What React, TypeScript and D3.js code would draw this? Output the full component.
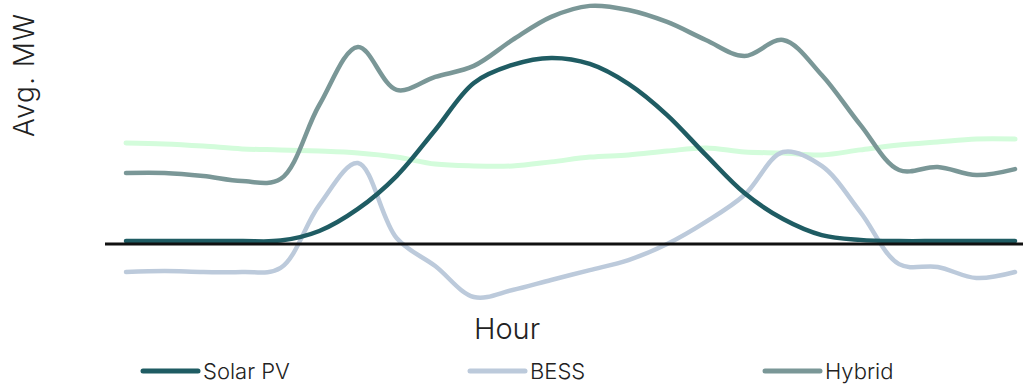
import React from "react";
import * as d3 from "d3";

const hours = d3.range(0, 24);
const solarPV = [0.8, 0.8, 0.8, 0.8, 1.0, 5.0, 14.2, 27.9, 47.1, 66.7, 74.2, 77.1, 74.6, 66.3, 53.3, 36.7, 20.8, 10.0, 3.3, 1.3, 0.8, 0.8, 0.8, 0.8];
const bess = [-12.1, -11.7, -12.1, -12.1, -10.4, 15.8, 33.3, 2.1, -9.6, -22.5, -19.6, -15.4, -11.3, -7.1, -0.4, 8.8, 20.0, 37.9, 32.1, 12.9, -8.8, -10.0, -14.6, -12.1];
const hybrid = [29.2, 29.2, 27.9, 25.8, 26.7, 57.5, 81.7, 63.8, 69.2, 73.8, 84.6, 94.2, 98.8, 97.1, 92.1, 84.6, 77.9, 84.6, 70.0, 49.2, 30.4, 31.7, 28.3, 30.8];
const baseline = [41.7, 41.3, 40.4, 39.2, 38.8, 38.3, 37.5, 35.8, 32.9, 32.1, 32.1, 33.8, 35.8, 36.7, 38.3, 39.6, 37.9, 37.5, 36.7, 38.8, 40.8, 42.1, 43.3, 43.3];

const seriesNames = ["Solar PV", "BESS", "Hybrid"];

const W = 1023;
const H = 385;

export default function App() {
  const x = d3.scaleLinear().domain([0, 23]).range([126, 1015]);
  const y = d3.scaleLinear().domain([-30, 100]).range([315, 3]);
  const line = d3
    .line<number>()
    .x((_, i) => x(hours[i]))
    .y((d) => y(d))
    .curve(d3.curveCatmullRom.alpha(0.5));

  const series = [
    { name: "baseline", data: baseline, color: "#d3fcdb", width: 5 },
    { name: "BESS", data: bess, color: "#bccadb", width: 4.5 },
    { name: "Hybrid", data: hybrid, color: "#7a9797", width: 4.5 },
    { name: "Solar PV", data: solarPV, color: "#1f5c63", width: 4.5 },
  ];
  const colorOf: Record<string, string> = {
    "Solar PV": "#1f5c63",
    BESS: "#bccadb",
    Hybrid: "#7a9797",
  };
  const legendX = [143, 470, 765];
  const font = "Inter, 'Noto Sans', sans-serif";

  return (
    <svg
      width={W}
      height={H}
      style={{ position: "absolute", left: 0, top: 0, background: "#fff" }}
      fontFamily={font}
    >
      {series.map((s) => (
        <path
          key={s.name}
          d={line(s.data) || ""}
          fill="none"
          stroke={s.color}
          strokeWidth={s.width}
          strokeLinejoin="round"
          strokeLinecap="round"
        />
      ))}
      <line x1={105} x2={1023} y1={y(0) + 1} y2={y(0) + 1} stroke="#111" strokeWidth={3} />
      <text
        transform={`translate(34, 75) rotate(-90)`}
        textAnchor="middle"
        fontSize={28}
        letterSpacing={1}
        fill="#222"
        fontWeight={300}
      >
        Avg. MW
      </text>
      <text x={507} y={339} textAnchor="middle" fontSize={29} fill="#222" fontWeight={300}>
        Hour
      </text>
      {seriesNames.map((n, i) => (
        <g key={n} transform={`translate(${legendX[i]}, 371)`}>
          <line x1={0} x2={55} y1={0} y2={0} stroke={colorOf[n]} strokeWidth={5} strokeLinecap="round" />
          <text x={60} y={8} fontSize={22} fill="#222" fontWeight={300}>
            {n}
          </text>
        </g>
      ))}
    </svg>
  );
}
